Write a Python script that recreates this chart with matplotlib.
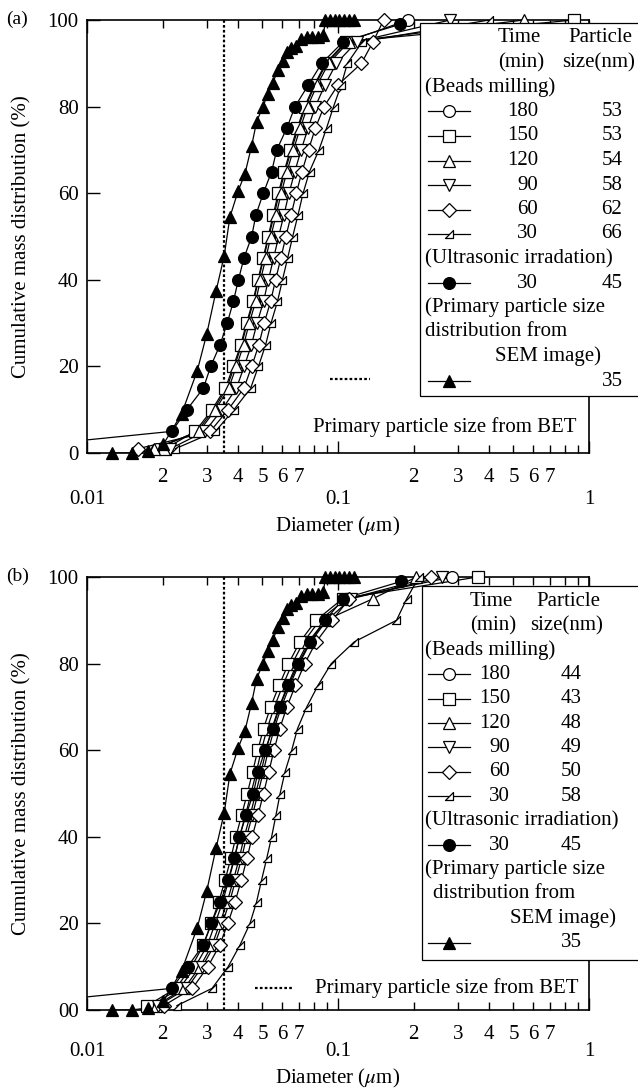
import matplotlib
matplotlib.use("Agg")
import matplotlib.pyplot as plt
from matplotlib.path import Path
from matplotlib.lines import Line2D
from matplotlib.patches import Rectangle
from matplotlib.ticker import FixedLocator, FixedFormatter

# ---------------- data ----------------
# SEM primary particle size distribution (same in both panels)
sem_d = [0.01254, 0.01507, 0.01754, 0.02014, 0.0238, 0.0275, 0.0300, 0.0327, 0.0352,
         0.0371, 0.0400, 0.0426, 0.0453, 0.0474, 0.0502, 0.0526, 0.0551, 0.0575, 0.0604,
         0.0625, 0.0650, 0.0680, 0.0710, 0.0750, 0.0790, 0.0835, 0.0875, 0.0890, 0.0930,
         0.0970, 0.1010, 0.1060, 0.1110, 0.1160]
sem_y = [0, 0, 0.5, 2, 9, 19, 27.5, 37.5, 45.5, 54.5, 60.5, 64.5, 71, 76.5, 80, 83, 85.5,
         88.5, 90.5, 92.5, 93.5, 94, 95.5, 96, 96, 96, 96.5, 100, 100, 100, 100, 100, 100, 100]

# ultrasonic irradiation 30 min
us_y = [1, 5, 10, 15, 20, 25, 30, 35, 40, 45, 50, 55, 60, 65, 70, 75, 80, 85, 90, 95, 99]
us_a = [0.0045, 0.0218, 0.0250, 0.0291, 0.0311, 0.0339, 0.0362, 0.0383, 0.0401, 0.0422,
        0.0453, 0.0471, 0.0504, 0.0544, 0.0570, 0.0625, 0.0674, 0.0762, 0.0861, 0.1050, 0.1766]
us_b = [0.0045, 0.0218, 0.0252, 0.0290, 0.0313, 0.0340, 0.0365, 0.0386, 0.0405, 0.0430,
        0.0460, 0.0480, 0.0512, 0.0550, 0.0585, 0.0635, 0.0694, 0.0772, 0.0890, 0.1050, 0.1790]

# beads milling, cumulative levels
bead_y = [1, 5, 10, 15, 20, 25, 30, 35, 40, 45, 50, 55, 60, 65, 70, 75, 80, 85, 90, 95, 100]

# panel (a)
a_180 = [0.0190, 0.0275, 0.0320, 0.0360, 0.0387, 0.0413, 0.0435, 0.0461, 0.0482, 0.0506, 0.0530,
         0.0557, 0.0583, 0.0615, 0.0652, 0.0694, 0.0742, 0.0811, 0.0901, 0.1087, 0.190]
a_150 = [0.0205, 0.0270, 0.0315, 0.0356, 0.0383, 0.0410, 0.0432, 0.0458, 0.0480, 0.0503, 0.0527,
         0.0552, 0.0578, 0.0610, 0.0646, 0.0688, 0.0736, 0.0805, 0.0893, 0.1075, 0.870]
a_120 = [0.0185, 0.0280, 0.0325, 0.0367, 0.0394, 0.0421, 0.0443, 0.0470, 0.0491, 0.0516, 0.0540,
         0.0567, 0.0594, 0.0626, 0.0664, 0.0707, 0.0756, 0.0826, 0.0918, 0.1107, 0.550]
a_90 = [0.0215, 0.0295, 0.0345, 0.0394, 0.0423, 0.0452, 0.0476, 0.0505, 0.0528, 0.0554, 0.0580,
        0.0609, 0.0638, 0.0673, 0.0713, 0.0760, 0.0812, 0.0887, 0.0986, 0.1189, 0.280]
a_60 = [0.0160, 0.0310, 0.0365, 0.0422, 0.0453, 0.0484, 0.0508, 0.0539, 0.0564, 0.0592, 0.0620,
        0.0651, 0.0682, 0.0719, 0.0763, 0.0812, 0.0880, 0.1000, 0.1240, 0.1380, 0.1520]
a_30 = [0.0225, 0.0325, 0.0385, 0.0449, 0.0482, 0.0515, 0.0541, 0.0574, 0.0601, 0.0630, 0.0660,
        0.0693, 0.0726, 0.0770, 0.0840, 0.0900, 0.0960, 0.1030, 0.1090, 0.1250, 0.400]

# panel (b)
b_180 = [0.0180, 0.0234, 0.0270, 0.0302, 0.0324, 0.0347, 0.0367, 0.0387, 0.0405, 0.0428, 0.0450,
         0.0473, 0.0495, 0.0522, 0.0558, 0.0603, 0.0657, 0.0729, 0.0846, 0.1080, 0.285]
b_150 = [0.0174, 0.0226, 0.0261, 0.0291, 0.0313, 0.0335, 0.0355, 0.0374, 0.0392, 0.0413, 0.0435,
         0.0457, 0.0479, 0.0505, 0.0539, 0.0583, 0.0635, 0.0705, 0.0818, 0.1044, 0.360]
b_120 = [0.0188, 0.0244, 0.0282, 0.0315, 0.0338, 0.0362, 0.0383, 0.0404, 0.0423, 0.0447, 0.0470,
         0.0494, 0.0517, 0.0545, 0.0583, 0.0630, 0.0686, 0.0761, 0.0890, 0.1380, 0.205]
b_90 = [0.0192, 0.0250, 0.0288, 0.0322, 0.0346, 0.0370, 0.0391, 0.0413, 0.0432, 0.0456, 0.0480,
        0.0504, 0.0528, 0.0557, 0.0595, 0.0643, 0.0701, 0.0778, 0.0902, 0.1130, 0.260]
b_60 = [0.0202, 0.0263, 0.0303, 0.0338, 0.0364, 0.0389, 0.0412, 0.0434, 0.0455, 0.0480, 0.0505,
        0.0530, 0.0556, 0.0586, 0.0626, 0.0677, 0.0737, 0.0818, 0.0949, 0.1110, 0.235]
b_30 = [0.0228, 0.0315, 0.0365, 0.0407, 0.0446, 0.0474, 0.0496, 0.0520, 0.0544, 0.0566, 0.0588,
        0.0615, 0.0654, 0.0690, 0.0751, 0.0833, 0.0940, 0.1160, 0.1710, 0.1880, 0.210]

times = ["180", "150", "120", "90", "60", "30"]
sizes_a = ["53", "53", "54", "58", "62", "66"]
sizes_b = ["44", "43", "48", "49", "50", "58"]
us_size_a, us_size_b = "45", "45"
sem_size = "35"
bet_d = 0.035

# ---------------- style ----------------
W, H = 638, 1091
FS = 15
plt.rcParams['font.family'] = ['Liberation Serif', 'DejaVu Serif']
plt.rcParams['mathtext.fontset'] = 'stix'

half_tri = Path([(-1, -1), (1, -1), (1, 1), (-1, -1)],
                [Path.MOVETO, Path.LINETO, Path.LINETO, Path.CLOSEPOLY])
open_styles = [
    dict(marker='o', ms=8.5),
    dict(marker='s', ms=8),
    dict(marker='^', ms=8.5),
    dict(marker='v', ms=8.5),
    dict(marker='D', ms=7),
    dict(marker=half_tri, ms=6),
]

fig = plt.figure(figsize=(W / 100, H / 100), dpi=100)


def fx(px):
    return px / W


def fy(py):
    return 1 - py / H


def series(ax, x, y, fill, **mk):
    ax.plot(x, y, '-', color='black', lw=0.9, zorder=2)
    xi = [a for a in x if 0.01 <= a <= 1]
    yi = [b for a, b in zip(x, y) if 0.01 <= a <= 1]
    ax.plot(xi, yi, ls='none', mfc=fill, mec='black', mew=0.9, clip_on=False, zorder=3, **mk)


def panel(top, bottom, label, ylabels, beads, us, sizes, leg):
    ax = fig.add_axes([fx(87), fy(bottom), (589 - 87) / W, (bottom - top) / H])
    ax.set_xscale('log')
    ax.set_xlim(0.01, 1)
    ax.set_ylim(0, 100)

    for xs, st in zip(beads, open_styles):
        series(ax, xs, bead_y, 'white', **st)
    series(ax, us, us_y, 'black', marker='o', ms=8.5)
    series(ax, sem_d, sem_y, 'black', marker='^', ms=8.5)
    ax.axvline(bet_d, color='black', ls=(0, (1.2, 1.0)), lw=1.6, zorder=1)

    ax.xaxis.set_major_locator(FixedLocator([0.01, 0.1, 1]))
    ax.xaxis.set_major_formatter(FixedFormatter(['0.01', '0.1', '1']))
    minor = [m * 0.01 for m in range(2, 10)] + [m * 0.1 for m in range(2, 10)]
    minor_lab = ['2', '3', '4', '5', '6', '7', '', ''] * 2
    ax.xaxis.set_minor_locator(FixedLocator(minor))
    ax.xaxis.set_minor_formatter(FixedFormatter(minor_lab))
    ax.tick_params(axis='x', which='both', direction='in', top=True, labelsize=FS, width=1)
    ax.tick_params(axis='x', which='major', length=9, pad=leg['mpad'])
    ax.tick_params(axis='x', which='minor', length=6, pad=11)
    ax.set_yticks([0, 20, 40, 60, 80, 100])
    ax.set_yticklabels(ylabels)
    ax.tick_params(axis='y', direction='in', length=9, width=1, pad=6, labelsize=FS)
    for s in ax.spines.values():
        s.set_linewidth(1.2)

    fig.text(fx(6), fy(top - 1), label, fontsize=FS - 1, va='center', ha='left')
    fig.text(fx(22), fy((top + bottom) / 2), 'Cumulative mass distribution (%)',
             rotation=90, fontsize=FS, va='center', ha='center')
    fig.text(fx(338), fy(bottom + leg['xlab']), r'Diameter ($\mu$m)', fontsize=FS,
             va='center', ha='center')

    # ---- hand-built legend ----
    fig.patches.append(Rectangle((fx(leg['left']), fy(leg['bottom'])), fx(660 - leg['left']),
                                 (leg['bottom'] - leg['top']) / H, transform=fig.transFigure,
                                 facecolor='white', edgecolor='black', lw=0.9, zorder=5))
    rows = [leg['y0'] + leg['dy'] * k for k in range(15)]

    def t(x, r, s, ha='left'):
        fig.text(fx(x), fy(rows[r]), s, fontsize=FS, va='center', ha=ha, zorder=6)

    def sample(r, fill, **mk):
        fig.lines.append(Line2D([fx(428), fx(470)], [fy(rows[r])] * 2, transform=fig.transFigure,
                                color='black', lw=0.9, zorder=6))
        fig.lines.append(Line2D([fx(449)], [fy(rows[r])], transform=fig.transFigure, ls='none',
                                mfc=fill, mec='black', mew=0.9, zorder=7, **mk))

    t(leg['time_r'] + 3, 0, 'Time', ha='right')
    t(leg['time_r'] + 6, 1, '(min)', ha='right')
    t(leg['part_l'], 0, 'Particle')
    t(leg['part_l'] - 6, 1, 'size(nm)')
    t(425, 2, '(Beads milling)')
    for k in range(6):
        sample(3 + k, 'white', **open_styles[k])
        t(leg['time_r'], 3 + k, times[k], ha='right')
        t(leg['size_c'], 3 + k, sizes[k], ha='center')
    t(425, 9, leg['us_text'])
    sample(10, 'black', marker='o', ms=8.5)
    t(leg['time_r'], 10, '30', ha='right')
    t(leg['size_c'], 10, us_size_a, ha='center')
    t(425, 11, '(Primary particle size')
    t(leg['dist_l'], 12, 'distribution from')
    t(leg['sem_l'], 13, 'SEM image)')
    sample(14, 'black', marker='^', ms=8.5)
    t(leg['size_c'], 14, sem_size, ha='center')

    # BET note
    fig.lines.append(Line2D([fx(leg['dot'][0]), fx(leg['dot'][1])], [fy(leg['dot'][2])] * 2,
                            transform=fig.transFigure, color='black', lw=1.6,
                            ls=(0, (1.2, 1.0)), zorder=6))
    fig.text(fx(leg['bet'][0]), fy(leg['bet'][1]), 'Primary particle size from BET',
             fontsize=FS, va='center', ha='left', zorder=6)
    return ax


panel(20, 453, '(a)', ['0', '20', '40', '60', '80', '100'],
      [a_180, a_150, a_120, a_90, a_60, a_30], us_a, sizes_a,
      dict(left=420, top=23, bottom=396, y0=38, dy=24.5, time_r=538, part_l=568, size_c=612,
           dist_l=425, sem_l=495, us_text='(Ultrasonic irradation)',
           dot=(330, 370, 379), bet=(313, 427), xlab=73, mpad=27))
panel(577, 1010, '(b)', ['00', '20', '40', '60', '80', '100'],
      [b_180, b_150, b_120, b_90, b_60, b_30], us_b, sizes_b,
      dict(left=422, top=586, bottom=960, y0=601, dy=24.4, time_r=510, part_l=536, size_c=571,
           dist_l=433, sem_l=510, us_text='(Ultrasonic irradiation)',
           dot=(255, 293, 988), bet=(315, 988), xlab=68, mpad=23))

fig.savefig('out.png', dpi=100)
